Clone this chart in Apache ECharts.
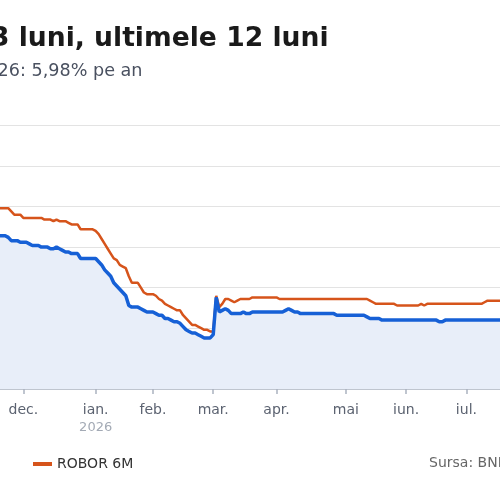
<!DOCTYPE html>
<html>
<head>
<meta charset="utf-8">
<script src="https://cdn.jsdelivr.net/npm/echarts@6/dist/echarts.min.js"></script>
<style>
html, body { margin: 0; padding: 0; width: 500px; height: 500px; overflow: hidden; background: #fff; }
/* the picture is the right-hand part of a wider chart, so the canvas starts left of the page */
#chart { position: absolute; left: -200px; top: 0; width: 760px; height: 500px; }
</style>
</head>
<body>
<div id="chart"></div>
<script>
// one point per fixing day; nov. and iul. are only partly in view
var months = ['nov.', 'dec.', 'ian.', 'feb.', 'mar.', 'apr.', 'mai', 'iun.', 'iul.'];
var pointsPerMonth = [8, 24, 19, 20, 21, 23, 20, 20, 14];
var yearLabels = { 'ian.': '2026' };

var robor3M = [
    6.57, 6.57, 6.57, 6.56, 6.54, 6.54, 6.54, 6.53,
    6.53, 6.53, 6.52, 6.51, 6.51, 6.51, 6.50, 6.50, 6.50, 6.49, 6.49, 6.50, 6.49, 6.48, 6.47, 6.47, 6.46, 6.46, 6.46, 6.43, 6.43, 6.43, 6.43, 6.43,
    6.43, 6.41, 6.39, 6.36, 6.34, 6.32, 6.28, 6.26, 6.24, 6.22, 6.20, 6.14, 6.13, 6.13, 6.13, 6.12, 6.11, 6.10, 6.10,
    6.10, 6.09, 6.08, 6.08, 6.06, 6.06, 6.05, 6.04, 6.04, 6.03, 6.01, 5.99, 5.98, 5.97, 5.97, 5.96, 5.95, 5.94, 5.94, 5.94,
    5.96, 6.19, 6.10, 6.11, 6.12, 6.11, 6.09, 6.09, 6.09, 6.09, 6.10, 6.09, 6.09, 6.10, 6.10, 6.10, 6.10, 6.10, 6.10, 6.10, 6.10,
    6.10, 6.10, 6.10, 6.11, 6.12, 6.11, 6.10, 6.10, 6.09, 6.09, 6.09, 6.09, 6.09, 6.09, 6.09, 6.09, 6.09, 6.09, 6.09, 6.09, 6.08, 6.08, 6.08,
    6.08, 6.08, 6.08, 6.08, 6.08, 6.08, 6.08, 6.07, 6.06, 6.06, 6.06, 6.06, 6.05, 6.05, 6.05, 6.05, 6.05, 6.05, 6.05, 6.05,
    6.05, 6.05, 6.05, 6.05, 6.05, 6.05, 6.05, 6.05, 6.05, 6.05, 6.05, 6.04, 6.04, 6.05, 6.05, 6.05, 6.05, 6.05, 6.05, 6.05,
    6.05, 6.05, 6.05, 6.05, 6.05, 6.05, 6.05, 6.05, 6.05, 6.05, 6.05, 6.05, 6.05, 6.05
];

var robor6M = [
    6.74, 6.74, 6.74, 6.74, 6.72, 6.70, 6.70, 6.70,
    6.68, 6.68, 6.68, 6.68, 6.68, 6.68, 6.68, 6.67, 6.67, 6.67, 6.66, 6.67, 6.66, 6.66, 6.66, 6.65, 6.64, 6.64, 6.64, 6.61, 6.61, 6.61, 6.61, 6.61,
    6.60, 6.58, 6.55, 6.52, 6.49, 6.46, 6.43, 6.42, 6.39, 6.38, 6.37, 6.32, 6.28, 6.28, 6.28, 6.25, 6.22, 6.21, 6.21,
    6.21, 6.20, 6.18, 6.17, 6.15, 6.14, 6.13, 6.12, 6.11, 6.11, 6.08, 6.06, 6.04, 6.02, 6.02, 6.01, 6.00, 5.99, 5.99, 5.98,
    5.98, 6.20, 6.13, 6.15, 6.18, 6.18, 6.17, 6.16, 6.17, 6.18, 6.18, 6.18, 6.18, 6.19, 6.19, 6.19, 6.19, 6.19, 6.19, 6.19, 6.19,
    6.19, 6.18, 6.18, 6.18, 6.18, 6.18, 6.18, 6.18, 6.18, 6.18, 6.18, 6.18, 6.18, 6.18, 6.18, 6.18, 6.18, 6.18, 6.18, 6.18, 6.18, 6.18, 6.18,
    6.18, 6.18, 6.18, 6.18, 6.18, 6.18, 6.18, 6.18, 6.17, 6.16, 6.15, 6.15, 6.15, 6.15, 6.15, 6.15, 6.15, 6.14, 6.14, 6.14,
    6.14, 6.14, 6.14, 6.14, 6.14, 6.15, 6.14, 6.15, 6.15, 6.15, 6.15, 6.15, 6.15, 6.15, 6.15, 6.15, 6.15, 6.15, 6.15, 6.15,
    6.15, 6.15, 6.15, 6.15, 6.15, 6.15, 6.16, 6.17, 6.17, 6.17, 6.17, 6.17, 6.17, 6.17
];

var categories = [];
var monthStart = {};
var n = 0;
months.forEach(function (m, k) {
    for (var d = 0; d < pointsPerMonth[k]; d++) {
        categories.push(m + ' ' + (d + 1));
        if (d === 0 && k > 0) monthStart[n] = m;   // nov. starts off the chart, no tick for it
        n++;
    }
});

var option = {
    animation: false,
    textStyle: { fontFamily: 'DejaVu Sans' },
    title: [
        {
            text: 'ROBOR la 3 luni, ultimele 12 luni',
            left: 528.5, top: 26, padding: 0,
            textAlign: 'right',
            textStyle: { fontSize: 26.6, fontWeight: 'bold', color: '#1a1a1a' }
        },
        {
            text: 'ROBOR 3M la 17.07.2026: 5,98% pe an',
            left: 342.5, top: 62, padding: 0,
            textAlign: 'right',
            textStyle: { fontSize: 17.6, fontWeight: 'normal', color: '#4a5160' }
        }
    ],
    legend: [
        {
            data: ['ROBOR 3M'], left: 60, top: 457, padding: 0,
            icon: 'rect', itemWidth: 19, itemHeight: 4,
            textStyle: { fontSize: 14, color: '#333' }
        },
        {
            data: ['ROBOR 6M'], left: 233, top: 457, padding: 0,
            icon: 'rect', itemWidth: 19, itemHeight: 4,
            textStyle: { fontSize: 14, color: '#333' }
        }
    ],
    graphic: [
        {
            type: 'text', left: 629, top: 456,
            style: { text: 'Sursa: BNR', fill: '#666', font: '14px "DejaVu Sans"' }
        }
    ],
    grid: {
        left: 199.2, right: 54.4, top: 125.5, bottom: 111,
        containLabel: false,
        outerBoundsMode: 'none'
    },
    xAxis: {
        type: 'category',
        data: categories,
        boundaryGap: false,
        axisLine: { lineStyle: { color: '#aab3c0', width: 1.5 } },
        axisTick: {
            length: 5,
            interval: function (i) { return monthStart[i] !== undefined; },
            lineStyle: { color: '#aab3c0', width: 1.5 }
        },
        axisLabel: {
            margin: 12,
            interval: function (i) { return monthStart[i] !== undefined; },
            formatter: function (value, i) {
                var m = monthStart[i];
                if (!m) return '';
                return yearLabels[m] ? '{m|' + m + '}\n{y|' + yearLabels[m] + '}' : '{m|' + m + '}';
            },
            rich: {
                m: { fontSize: 14, color: '#5b6270', lineHeight: 18 },
                y: { fontSize: 13, color: '#a3aab5', lineHeight: 18 }
            }
        },
        splitLine: { show: false }
    },
    yAxis: {
        type: 'value',
        min: 5.625,
        max: 7.25,
        interval: 0.125,
        axisLabel: { show: false },
        axisLine: { show: false },
        axisTick: { show: false },
        // only every second tick gets a visible grid line (5.75, 6.00, ... 7.25)
        splitLine: { lineStyle: { color: ['transparent', '#e3e3e3'], width: 1 } }
    },
    series: [
        {
            name: 'ROBOR 6M',
            type: 'line',
            data: robor6M,
            showSymbol: false,
            color: '#d6541b',
            lineStyle: { width: 2.5, color: '#d6541b' }
        },
        {
            name: 'ROBOR 3M',
            type: 'line',
            data: robor3M,
            showSymbol: false,
            color: '#1660d6',
            lineStyle: { width: 3.5, color: '#1660d6' },
            areaStyle: { color: '#e8eef9', opacity: 1 }
        }
    ]
};

var myChart = echarts.init(document.getElementById('chart'));
myChart.setOption(option);
</script>
</body>
</html>
